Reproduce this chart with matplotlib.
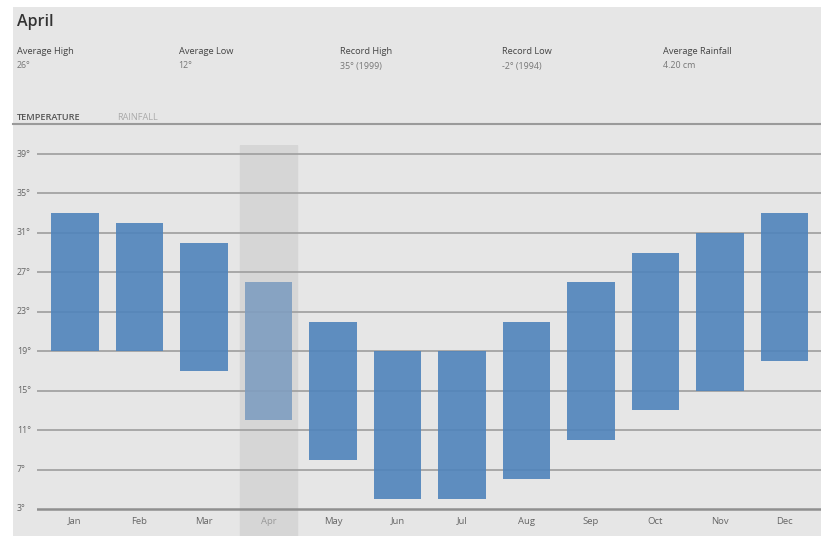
import matplotlib.pyplot as plt
from matplotlib.patches import Rectangle

plt.rcParams['font.family'] = ['Open Sans', 'DejaVu Sans']

months = ['Jan', 'Feb', 'Mar', 'Apr', 'May', 'Jun', 'Jul', 'Aug', 'Sep', 'Oct', 'Nov', 'Dec']
highs = [33, 32, 30, 26, 22, 19, 19, 22, 26, 29, 31, 33]
lows = [19, 19, 17, 12, 8, 4, 4, 6, 10, 13, 15, 18]
yticks = [3, 7, 11, 15, 19, 23, 27, 31, 35, 39]
selected = 'Apr'

stat_names = ['Average High', 'Average Low', 'Record High', 'Record Low', 'Average Rainfall']
stat_values = ['26°', '12°', '35° (1999)', '-2° (1994)', '4.20 cm']

W, H = 821, 536
fig = plt.figure(figsize=(W / 100, H / 100), dpi=100)
fig.patch.set_facecolor('white')

# grey card behind everything
fig.patches.append(Rectangle((13 / W, 0), 1 - 13 / W, 1 - 7 / H, transform=fig.transFigure,
                             facecolor='#e6e6e6', edgecolor='none', zorder=-5))

def fx(px):
    return px / W

def fy(py):
    return 1 - py / H

fig.text(fx(17), fy(22), 'April', fontsize=11.5, color='#333333', va='center', fontweight='semibold')
for i, (name, val) in enumerate(zip(stat_names, stat_values)):
    x = fx(17 + 161.5 * i)
    fig.text(x, fy(52), name, fontsize=6.7, color='#444444', va='center')
    fig.text(x, fy(66), val, fontsize=6.4, color='#777777', va='center')

fig.text(fx(17), fy(117), 'TEMPERATURE', fontsize=6.6, color='#555555', va='center', fontweight='semibold')
fig.text(fx(117), fy(117), 'RAINFALL', fontsize=6.6, color='#aaaaaa', va='center')
fig.add_artist(plt.Line2D([fx(13), 1], [fy(124), fy(124)], color='#9a9a9a', lw=1.5,
                          transform=fig.transFigure))

# chart axes: x from 37px to 821px, y from 145px down to 536px
ax = fig.add_axes([fx(37), 0, 1 - fx(37), fy(145)])
ax.set_facecolor('none')
x = list(range(len(months)))
ax.set_xlim((37 - 75) / 64.5, (821 - 75) / 64.5)
ax.set_ylim(3 - 27 / 9.86, 39 + 9 / 9.86)
for s in ax.spines.values():
    s.set_visible(False)
ax.set_xticks([])
ax.set_yticks([])

sel = months.index(selected)
ax.axvspan(sel - 0.435, sel + 0.435, color='#d6d6d6', zorder=1)

for t in yticks:
    ax.axhline(t, color='#a3a3a3' if t != 3 else '#8f8f8f', lw=1.3 if t != 3 else 1.8, zorder=2)
    ax.text((17 - 75) / 64.5, t, f'{t}°', fontsize=6.4, color='#666666', ha='left', va='center',
            clip_on=False)

colors = ['#7f9ec0' if m == selected else '#4f84bb' for m in months]
heights = [h - l for h, l in zip(highs, lows)]
ax.bar(x, heights, bottom=lows, width=0.74, color=colors, alpha=0.9, zorder=3)

for i, m in enumerate(months):
    ax.text(i, 1.78, m, fontsize=6.8, ha='center', va='center',
            color='#999999' if m == selected else '#666666')

fig.savefig('out.png', dpi=100, facecolor='white')
